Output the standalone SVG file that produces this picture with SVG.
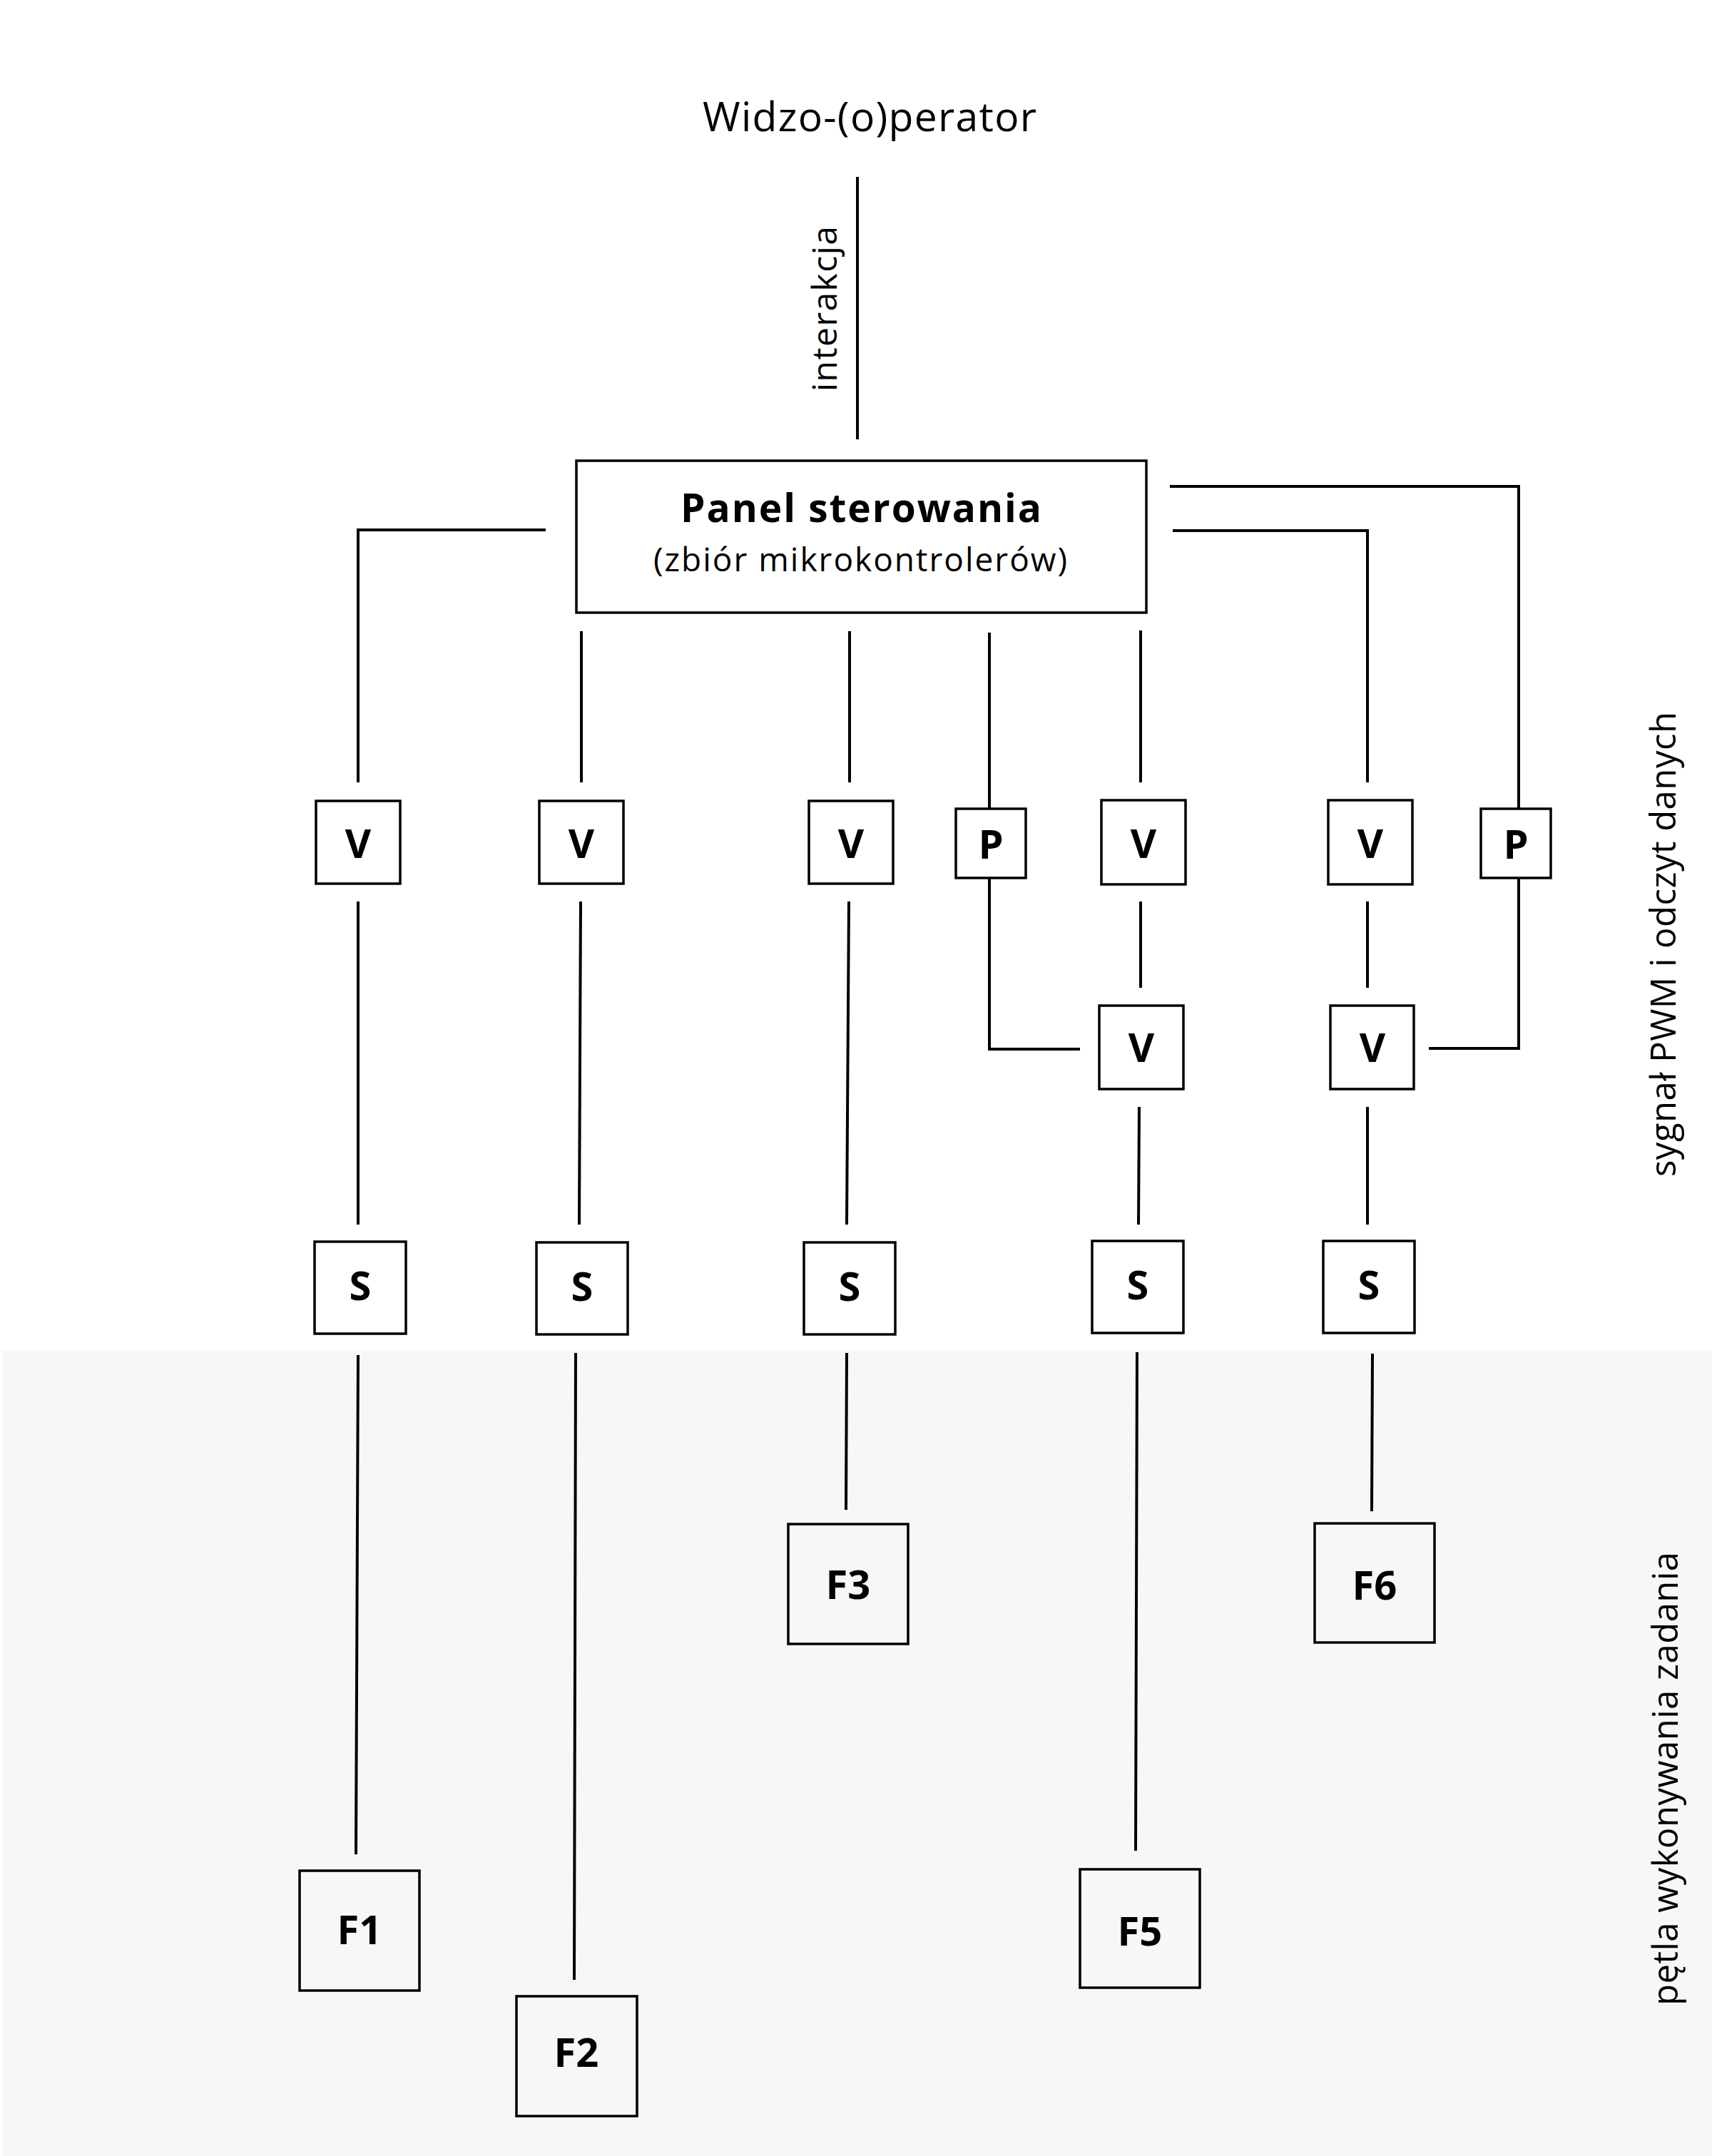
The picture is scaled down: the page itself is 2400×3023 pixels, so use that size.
<svg xmlns="http://www.w3.org/2000/svg" width="2400" height="3023" viewBox="0 0 2400 3023">
<style>
.bg{fill:#ffffff}
.zone{fill:#f7f7f7}
.box{fill:none;stroke:#000;stroke-width:3.5}
.ln{fill:none;stroke:#000;stroke-width:4}
.lbl{font-family:"Open Sans","Liberation Sans",sans-serif;font-weight:700;font-size:56px;fill:#000;text-anchor:middle}
.t{font-family:"Open Sans","Liberation Sans",sans-serif;fill:#000;text-anchor:middle}
</style>
<rect class="bg" x="0" y="0" width="2400" height="3023"/>
<rect class="zone" x="3" y="1893" width="2397" height="1130"/>

<text class="t" x="1219" y="184" font-size="57" textLength="468">Widzo-(o)perator</text>
<text class="t" x="1173" y="433" font-size="48" textLength="232" transform="rotate(-90 1173 433)">interakcja</text>
<text class="t" x="2349" y="1324" font-size="49" textLength="652" transform="rotate(-90 2349 1324)">sygnał PWM i odczyt danych</text>
<text class="t" x="2352" y="2494" font-size="49" textLength="636" transform="rotate(-90 2352 2494)">pętla wykonywania zadania</text>

<g id="connectors">
<line class="ln" x1="1202" y1="248" x2="1202" y2="616"/>
<polyline class="ln" points="765,743 502,743 502,1097"/>
<line class="ln" x1="815" y1="885" x2="815" y2="1097"/>
<line class="ln" x1="1191" y1="885" x2="1191" y2="1097"/>
<line class="ln" x1="1387" y1="887" x2="1387" y2="1134"/>
<polyline class="ln" points="1387,1231 1387,1471 1514,1471"/>
<line class="ln" x1="1599" y1="884" x2="1599" y2="1097"/>
<polyline class="ln" points="1644,744 1917,744 1917,1097"/>
<polyline class="ln" points="1640,682 2129,682 2129,1134"/>
<polyline class="ln" points="2129,1231 2129,1470 2003,1470"/>
<line class="ln" x1="502" y1="1264" x2="502" y2="1717"/>
<line class="ln" x1="814" y1="1264" x2="812" y2="1717"/>
<line class="ln" x1="1190" y1="1264" x2="1187" y2="1717"/>
<line class="ln" x1="1599" y1="1264" x2="1599" y2="1385"/>
<line class="ln" x1="1917" y1="1264" x2="1917" y2="1385"/>
<line class="ln" x1="1597" y1="1552" x2="1596" y2="1717"/>
<line class="ln" x1="1917" y1="1552" x2="1917" y2="1717"/>
<line class="ln" x1="502" y1="1900" x2="499" y2="2600"/>
<line class="ln" x1="807" y1="1897" x2="805" y2="2776"/>
<line class="ln" x1="1187" y1="1897" x2="1186" y2="2117"/>
<line class="ln" x1="1594" y1="1896" x2="1592" y2="2595"/>
<line class="ln" x1="1924" y1="1898" x2="1923" y2="2119"/>
</g>

<g id="panel">
<rect class="box" x="808" y="646" width="799" height="213"/>
<text class="t" x="1207" y="732" font-size="55" font-weight="700" textLength="506">Panel sterowania</text>
<text class="t" x="1206" y="801" font-size="46" textLength="580">(zbiór mikrokontrolerów)</text>
</g>

<g id="v1"><rect class="box" x="443" y="1123" width="118" height="116"/><text class="lbl" x="502" y="1203">V</text></g>
<g id="v2"><rect class="box" x="756" y="1123" width="118" height="116"/><text class="lbl" x="815" y="1203">V</text></g>
<g id="v3"><rect class="box" x="1134" y="1123" width="118" height="116"/><text class="lbl" x="1193" y="1203">V</text></g>
<g id="p1"><rect class="box" x="1340" y="1134" width="98" height="97"/><text class="lbl" x="1389" y="1204">P</text></g>
<g id="v4"><rect class="box" x="1544" y="1122" width="118" height="118"/><text class="lbl" x="1603" y="1203">V</text></g>
<g id="v5"><rect class="box" x="1862" y="1122" width="118" height="118"/><text class="lbl" x="1921" y="1203">V</text></g>
<g id="p2"><rect class="box" x="2076" y="1134" width="98" height="97"/><text class="lbl" x="2125" y="1204">P</text></g>
<g id="v4b"><rect class="box" x="1541" y="1410" width="118" height="117"/><text class="lbl" x="1600" y="1489">V</text></g>
<g id="v5b"><rect class="box" x="1865" y="1410" width="117" height="117"/><text class="lbl" x="1924" y="1489">V</text></g>

<g id="s1"><rect class="box" x="441" y="1741" width="128" height="129"/><text class="lbl" x="505" y="1823">S</text></g>
<g id="s2"><rect class="box" x="752" y="1742" width="128" height="129"/><text class="lbl" x="816" y="1824">S</text></g>
<g id="s3"><rect class="box" x="1127" y="1742" width="128" height="129"/><text class="lbl" x="1191" y="1824">S</text></g>
<g id="s4"><rect class="box" x="1531" y="1740" width="128" height="129"/><text class="lbl" x="1595" y="1822">S</text></g>
<g id="s5"><rect class="box" x="1855" y="1740" width="128" height="129"/><text class="lbl" x="1919" y="1822">S</text></g>

<g id="f1"><rect class="box" x="420" y="2623" width="168" height="168"/><text class="lbl" x="504" y="2726">F1</text></g>
<g id="f2"><rect class="box" x="724" y="2799" width="169" height="168"/><text class="lbl" x="808" y="2898">F2</text></g>
<g id="f3"><rect class="box" x="1105" y="2137" width="168" height="168"/><text class="lbl" x="1189" y="2242">F3</text></g>
<g id="f5"><rect class="box" x="1514" y="2621" width="168" height="166"/><text class="lbl" x="1598" y="2728">F5</text></g>
<g id="f6"><rect class="box" x="1843" y="2136" width="168" height="167"/><text class="lbl" x="1927" y="2243">F6</text></g>
</svg>
